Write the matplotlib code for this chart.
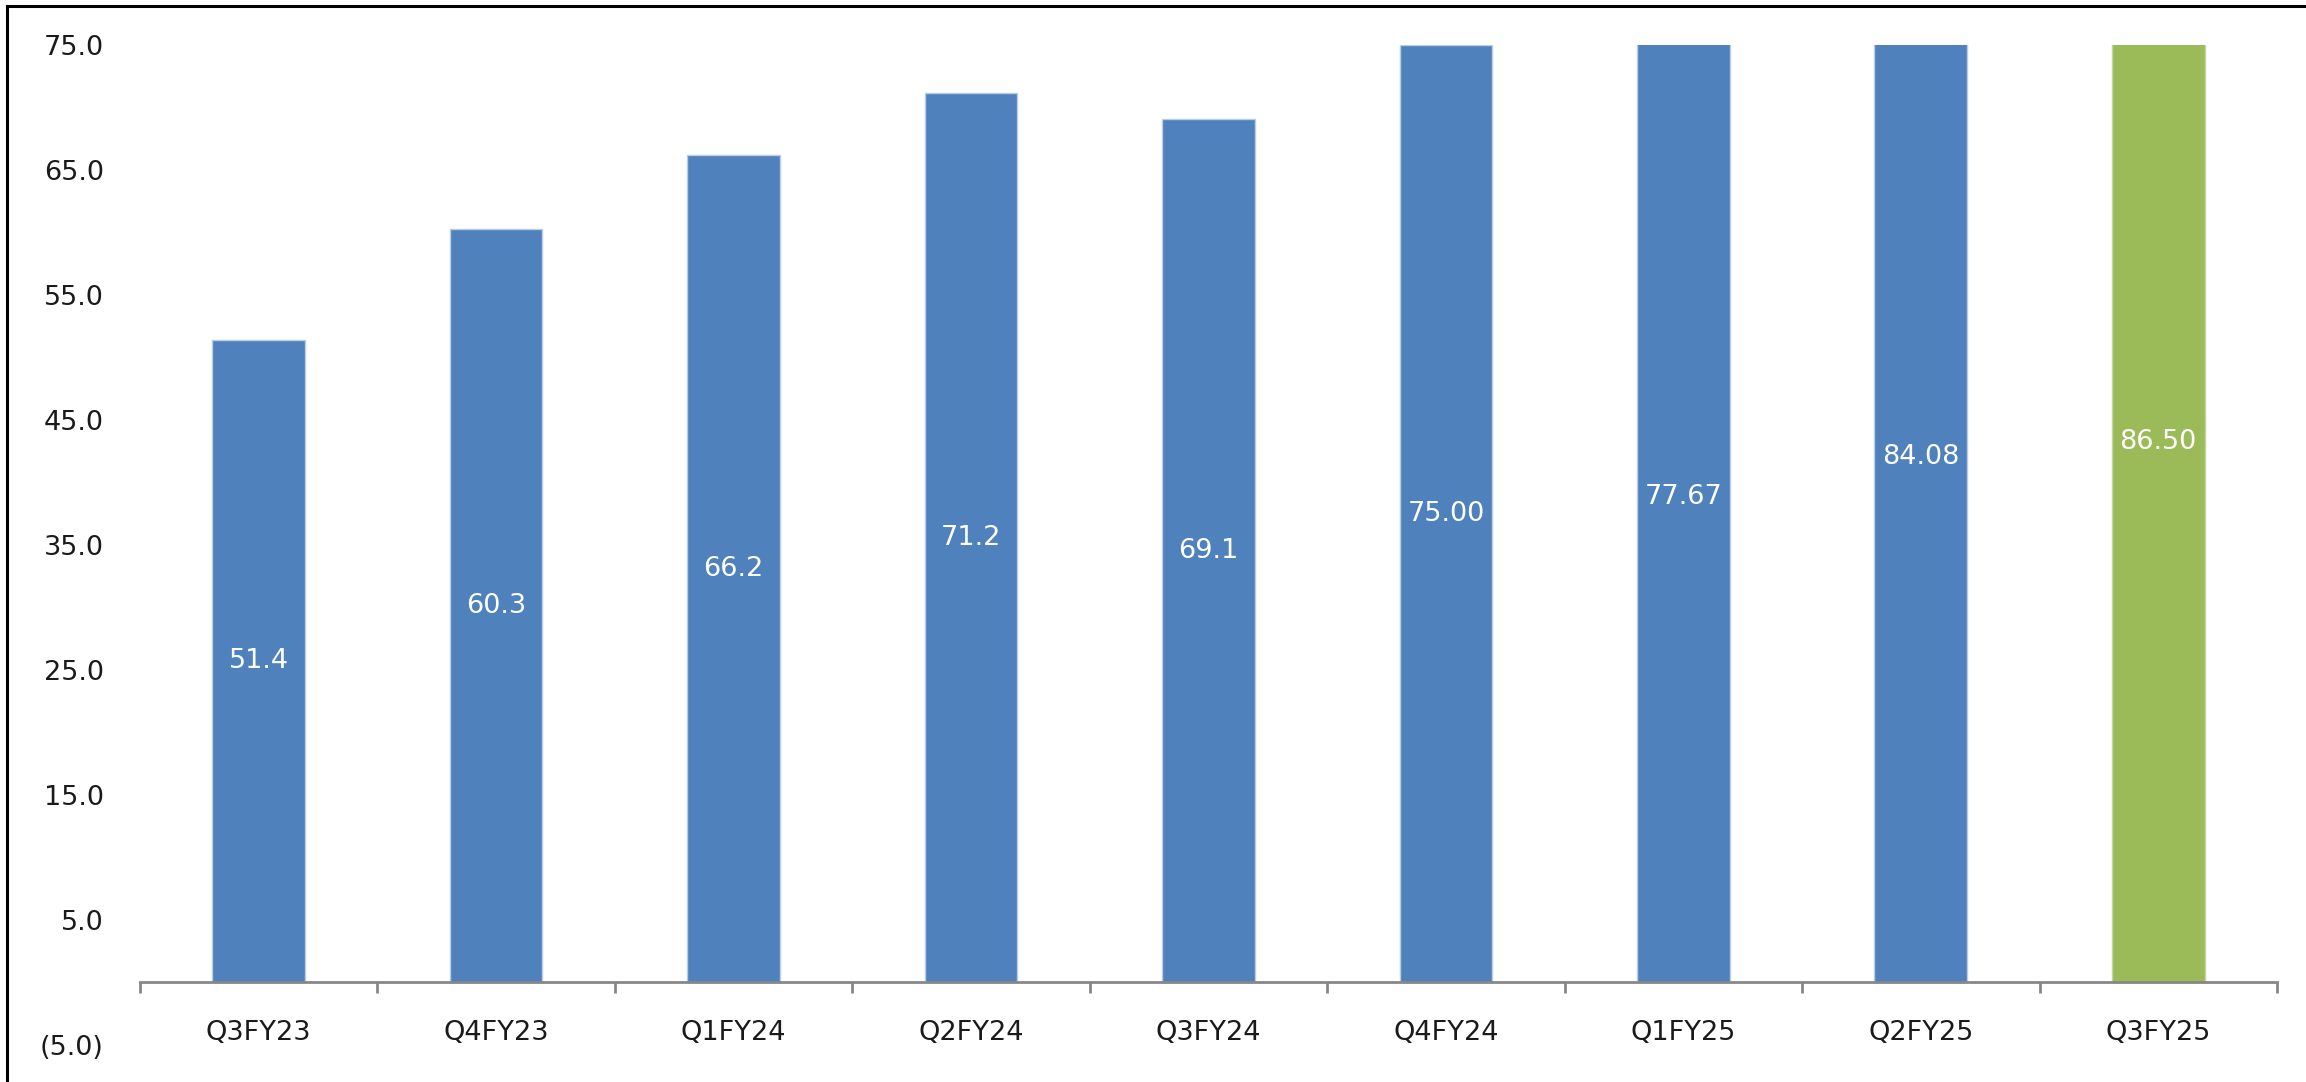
import numpy as np
import matplotlib.pyplot as plt
from matplotlib.ticker import FuncFormatter, FixedLocator
from matplotlib.lines import Line2D

quarters = ['Q3FY23', 'Q4FY23', 'Q1FY24', 'Q2FY24', 'Q3FY24',
            'Q4FY24', 'Q1FY25', 'Q2FY25', 'Q3FY25']
values = [51.4, 60.3, 66.2, 71.2, 69.1, 75.00, 77.67, 84.08, 86.50]
decimals = [1, 1, 1, 1, 1, 2, 2, 2, 2]

blue = '#4f81bd'
green = '#9bbb59'
colors = [blue] * 8 + [green]

plt.rcParams['font.family'] = ['DejaVu Sans']

fig = plt.figure(figsize=(23.06, 10.82), dpi=100)
ax = fig.add_axes([0.0607, 0.0342, 0.9267, 0.9242])

x = np.arange(len(quarters))
bars = ax.bar(x, values, width=0.39, color=colors, edgecolor='#b9cde5', linewidth=1.0)
bars[-1].set_edgecolor('#c3d69b')

# value labels sit in the middle of each bar
for xi, v, d in zip(x, values, decimals):
    ax.text(xi, v / 2, f'{v:.{d}f}', ha='center', va='center',
            color='white', fontsize=19.5)

ax.set_xlim(-0.5, len(quarters) - 0.5)
ax.set_ylim(-5, 75)
ax.set_yticks(np.arange(-5, 76, 10))

def fmt(v, pos):
    if v < 0:
        return f'({abs(v):.1f})'
    return f'{v:.1f}'

ax.yaxis.set_major_formatter(FuncFormatter(fmt))

ax.set_xticks(x)
ax.set_xticklabels(quarters)
ax.xaxis.set_minor_locator(FixedLocator(np.arange(-0.5, len(quarters), 1)))

for s in ['top', 'right', 'left']:
    ax.spines[s].set_visible(False)
ax.spines['bottom'].set_position(('data', 0))
ax.spines['bottom'].set_color('#878787')
ax.spines['bottom'].set_linewidth(2)

ax.tick_params(axis='x', which='major', length=0, pad=27, labelsize=19.5, labelcolor='#1a1a1a')
ax.tick_params(axis='x', which='minor', length=8, width=2, color='#878787', direction='out')
ax.tick_params(axis='y', length=0, pad=26, labelsize=19.5, labelcolor='#1a1a1a')

# frame lines along the top and left edge
fig.add_artist(Line2D([0.003, 1.0], [0.9945, 0.9945], transform=fig.transFigure,
                      color='black', linewidth=2.2))
fig.add_artist(Line2D([0.003, 0.003], [0.0, 0.9945], transform=fig.transFigure,
                      color='black', linewidth=2.2))

fig.savefig('out.png', dpi=100, facecolor='white')
